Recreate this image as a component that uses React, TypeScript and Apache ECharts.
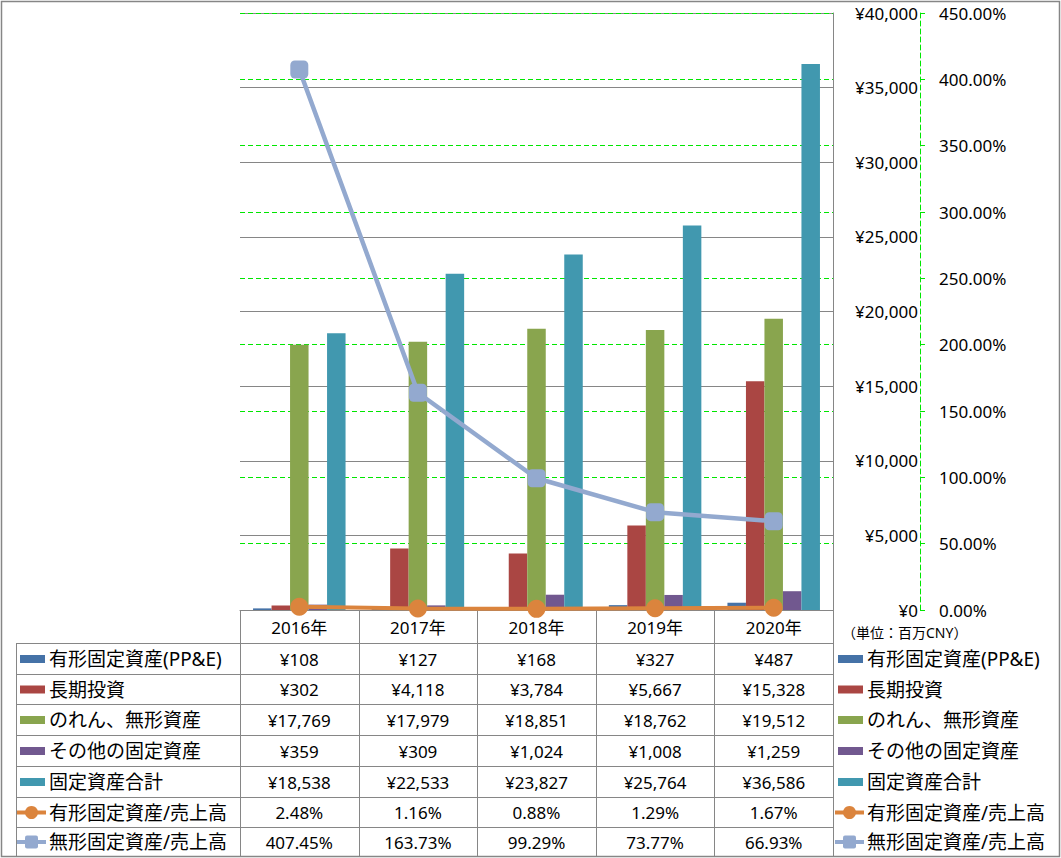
import React, { useEffect, useRef } from "react";
import * as echarts from "echarts";

const years = ["2016年", "2017年", "2018年", "2019年", "2020年"];
const ppe = [108, 127, 168, 327, 487];
const longInvest = [302, 4118, 3784, 5667, 15328];
const goodwill = [17769, 17979, 18851, 18762, 19512];
const otherFixed = [359, 309, 1024, 1008, 1259];
const totalFixed = [18538, 22533, 23827, 25764, 36586];
const tangibleRatio = [2.48, 1.16, 0.88, 1.29, 1.67];
const intangibleRatio = [407.45, 163.73, 99.29, 73.77, 66.93];

const barNames = ["有形固定資産(PP&E)", "長期投資", "のれん、無形資産", "その他の固定資産", "固定資産合計"];
const lineNames = ["有形固定資産/売上高", "無形固定資産/売上高"];
const unitLabel = "（単位：百万CNY）";

const barColors = ["#4572A7", "#AA4643", "#89A54E", "#71588F", "#4198AF"];
const lineColors = ["#DB843D", "#93A9CF"];

const FONT = "'Noto Sans', 'Noto Sans CJK JP', sans-serif";
const GRID_L = 240;
const GRID_T = 13;
const GRID_W = 593;
const GRID_H = 597;
const GRAY = "#868686";
const GREEN = "#00E600";

export default function App() {
  const ref = useRef<HTMLDivElement>(null);

  useEffect(() => {
    if (!ref.current) return;
    const chart = echarts.init(ref.current, undefined, { renderer: "svg" });

    const barData = [ppe, longInvest, goodwill, otherFixed, totalFixed];
    const lineData = [tangibleRatio, intangibleRatio];
    const colW = GRID_W / years.length;
    const rowEdges = [643, 674, 704, 735, 766, 797, 827, 856];
    const tableRight = GRID_L + GRID_W;

    const g: any[] = [];
    // outer border
    g.push({
      type: "rect",
      shape: { x: 1.5, y: 1.5, width: 1058, height: 855 },
      style: { fill: "none", stroke: GRAY, lineWidth: 1.5 },
      silent: true,
    });
    // horizontal table lines
    rowEdges.forEach((y) => {
      g.push({
        type: "line",
        shape: { x1: 16, y1: y + 0.5, x2: tableRight, y2: y + 0.5 },
        style: { stroke: GRAY, lineWidth: 1 },
        silent: true,
      });
    });
    // vertical lines
    for (let i = 0; i <= years.length; i++) {
      const x = Math.round(GRID_L + i * colW) + 0.5;
      g.push({
        type: "line",
        shape: { x1: x, y1: 610, x2: x, y2: 856 },
        style: { stroke: GRAY, lineWidth: 1 },
        silent: true,
      });
    }
    g.push({
      type: "line",
      shape: { x1: 16.5, y1: 643, x2: 16.5, y2: 856 },
      style: { stroke: GRAY, lineWidth: 1 },
      silent: true,
    });

    const allNames = [...barNames, ...lineNames];
    const addKey = (idx: number, x0: number, cy: number) => {
      if (idx < barNames.length) {
        g.push({
          type: "rect",
          shape: { x: x0 + 3, y: cy - 4, width: 25, height: 8 },
          style: { fill: barColors[idx] },
          silent: true,
        });
      } else {
        const li = idx - barNames.length;
        g.push({
          type: "line",
          shape: { x1: x0, y1: cy, x2: x0 + 29, y2: cy },
          style: { stroke: lineColors[li], lineWidth: 4 },
          silent: true,
        });
        if (li === 0) {
          g.push({
            type: "circle",
            shape: { cx: x0 + 14.5, cy, r: 6.5 },
            style: { fill: lineColors[li] },
            silent: true,
          });
        } else {
          g.push({
            type: "rect",
            shape: { x: x0 + 8, y: cy - 6.5, width: 13, height: 13, r: 2 },
            style: { fill: lineColors[li] },
            silent: true,
          });
        }
      }
    };

    allNames.forEach((name, r) => {
      const cy = (rowEdges[r] + rowEdges[r + 1]) / 2 + 0.5;
      // left legend
      addKey(r, 17, cy);
      g.push({
        type: "text",
        x: 49,
        y: cy,
        style: { text: name, font: `19px ${FONT}`, fill: "#000", textVerticalAlign: "middle", textAlign: "left" },
        silent: true,
      });
      // right legend
      addKey(r, 835, cy);
      g.push({
        type: "text",
        x: 867,
        y: cy,
        style: { text: name, font: `19px ${FONT}`, fill: "#000", textVerticalAlign: "middle", textAlign: "left" },
        silent: true,
      });
      // cells
      const vals = r < barNames.length ? barData[r] : lineData[r - barNames.length];
      vals.forEach((v, c) => {
        const txt =
          r < barNames.length ? "¥" + v.toLocaleString("en-US") : v.toFixed(2) + "%";
        g.push({
          type: "text",
          x: GRID_L + (c + 0.5) * colW,
          y: cy,
          style: { text: txt, font: `17px ${FONT}`, fill: "#000", textVerticalAlign: "middle", textAlign: "center" },
          silent: true,
        });
      });
    });

    g.push({
      type: "text",
      x: 842,
      y: 632,
      style: { text: unitLabel, font: `14px ${FONT}`, fill: "#000", textVerticalAlign: "middle", textAlign: "left" },
      silent: true,
    });

    const series: any[] = [];
    barNames.forEach((name, i) => {
      series.push({
        name,
        type: "bar",
        data: barData[i],
        yAxisIndex: 0,
        barGap: "0%",
        barCategoryGap: "22%",
        itemStyle: { color: barColors[i] },
        z: 2,
      });
    });
    lineNames.forEach((name, i) => {
      series.push({
        name,
        type: "line",
        data: lineData[i],
        yAxisIndex: 1,
        symbol: i === 0 ? "circle" : "roundRect",
        symbolSize: 18,
        lineStyle: { color: lineColors[i], width: i === 0 ? 4 : 4.5 },
        itemStyle: { color: lineColors[i] },
        z: 5,
      });
    });

    chart.setOption({
      animation: false,
      textStyle: { fontFamily: FONT },
      grid: { left: GRID_L, top: GRID_T, width: GRID_W, height: GRID_H, containLabel: false },
      xAxis: {
        type: "category",
        data: years,
        axisLine: { show: true, lineStyle: { color: GRAY, width: 1 } },
        axisTick: { show: false },
        axisLabel: { margin: 9, fontSize: 17, color: "#000", fontFamily: FONT },
        splitLine: { show: false },
      },
      yAxis: [
        {
          type: "value",
          position: "right",
          min: 0,
          max: 40000,
          interval: 5000,
          axisLine: { show: true, lineStyle: { color: GRAY, width: 1 } },
          axisTick: { show: false },
          splitLine: { show: true, lineStyle: { color: GRAY, width: 1 } },
          axisLabel: {
            align: "right",
            margin: 85,
            fontSize: 17,
            color: "#000",
            fontFamily: FONT,
            formatter: (v: number) => "¥" + v.toLocaleString("en-US"),
          },
        },
        {
          type: "value",
          position: "right",
          offset: 87,
          min: 0,
          max: 450,
          interval: 50,
          axisLine: { show: true, lineStyle: { color: GREEN, width: 1, type: [5, 3] } },
          axisTick: { show: true, length: 5, lineStyle: { color: GREEN } },
          splitLine: { show: true, lineStyle: { color: GREEN, width: 1, type: [5, 3] } },
          axisLabel: {
            margin: 19,
            fontSize: 17,
            color: "#000",
            fontFamily: FONT,
            formatter: (v: number) => v.toFixed(2) + "%",
          },
        },
      ],
      series,
      graphic: g,
    });

    return () => chart.dispose();
  }, []);

  return (
    <div
      ref={ref}
      style={{ position: "absolute", left: 0, top: 0, width: 1061, height: 858, background: "#fff" }}
    />
  );
}
